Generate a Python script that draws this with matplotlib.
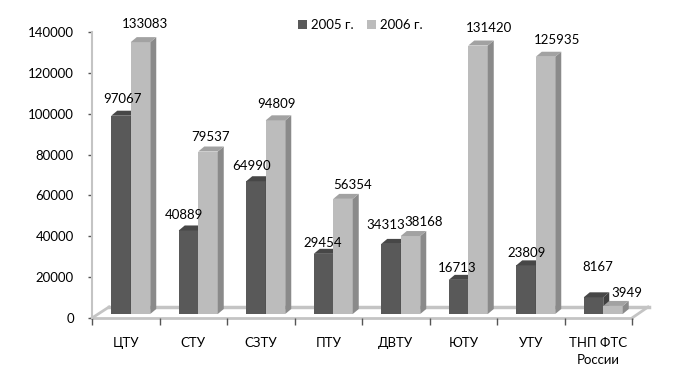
import matplotlib
matplotlib.use("Agg")
import matplotlib.pyplot as plt
from matplotlib.patches import Polygon, Patch
from matplotlib.transforms import ScaledTranslation
import numpy as np

plt.rcParams['font.family'] = ['Lato', 'DejaVu Sans']

categories = ['ЦТУ', 'СТУ', 'СЗТУ', 'ПТУ', 'ДВТУ', 'ЮТУ', 'УТУ', 'ТНП ФТС\nРоссии']
values_2005 = [97067, 40889, 64990, 29454, 34313, 16713, 23809, 8167]
values_2006 = [133083, 79537, 94809, 56354, 38168, 131420, 125935, 3949]
series_names = ['2005 г.', '2006 г.']
yticks = [0, 20000, 40000, 60000, 80000, 100000, 120000, 140000]

# style: label nudges (pixels) relative to bar front top centre
lab_dx_2005 = [1.5, -4, -4, -1, -5, -1, 1, 4]
lab_dy_2005 = [17, 15, 15, 11, 19, 12, 12, 30]
lab_dx_2006 = [4, 3, 1, 10, 13, 11, 12, 14]
lab_dy_2006 = [18, 15, 16, 14, 14, 18, 17, 13]

DPI = 100
fig = plt.figure(figsize=(6.75, 3.89), dpi=DPI)
fig.patch.set_facecolor('white')
ax = fig.add_axes([92/675, 1-318/389, 540/675, 286/389])
ax.set_xlim(0, 8)
ax.set_ylim(0, 140000)
ax.patch.set_alpha(0)

px_x = 8/540.0
px_y = 140000/286.0

floor_col = '#c4c4c4'
fdx, fdy = 17*px_x, 11*px_y
ax.plot([0, 8], [0, 0], color=floor_col, lw=2, clip_on=False, zorder=1)
ax.plot([fdx, 8+fdx], [fdy, fdy], color=floor_col, lw=2.5, clip_on=False, zorder=1)
ax.plot([0, fdx], [0, fdy], color=floor_col, lw=2, clip_on=False, zorder=1)
ax.plot([8, 8+fdx-1*px_x], [0, fdy], color=floor_col, lw=2, clip_on=False, zorder=1)

for s in ['top', 'right', 'bottom']:
    ax.spines[s].set_visible(False)
ax.spines['left'].set_color(floor_col)
ax.spines['left'].set_linewidth(1.5)

ax.set_yticks(yticks)
ax.set_yticklabels([str(t) for t in yticks], fontsize=9.5)
ax.tick_params(axis='y', length=3, width=1, color='#555555', pad=10)
ax.set_xticks(np.arange(9))
ax.set_xticklabels([''] * 9)
ax.tick_params(axis='x', which='major', length=5, width=1, color='#555555', direction='out')
ax.set_xticks(np.arange(8) + 0.5, minor=True)
ax.set_xticklabels(categories, minor=True, fontsize=9.5, linespacing=1.5)
ax.tick_params(axis='x', which='minor', length=0, pad=14)

shift = ScaledTranslation(5/DPI, 4/DPI, fig.dpi_scale_trans)
tr = ax.transData + shift

w = 19.5*px_x
ddx, ddy = 6*px_x, 5*px_y

colors = [dict(front='#595959', side='#404040', top='#474747'),
          dict(front='#bcbcbc', side='#8a8a8a', top='#a2a2a2')]

def draw_bar(x0, v, c, z):
    ax.add_patch(Polygon([(x0, 0), (x0+w, 0), (x0+w, v), (x0, v)], closed=True,
                         facecolor=c['front'], edgecolor='none', transform=tr, zorder=z, clip_on=False))
    ax.add_patch(Polygon([(x0+w, 0), (x0+w+ddx, ddy), (x0+w+ddx, v+ddy), (x0+w, v)], closed=True,
                         facecolor=c['side'], edgecolor='none', transform=tr, zorder=z, clip_on=False))
    ax.add_patch(Polygon([(x0, v), (x0+w, v), (x0+w+ddx, v+ddy), (x0+ddx, v+ddy)], closed=True,
                         facecolor=c['top'], edgecolor='none', transform=tr, zorder=z, clip_on=False))

for i in range(len(categories)):
    c0 = i + 0.5
    draw_bar(c0 - w, values_2005[i], colors[0], 3 + 2*i)
    draw_bar(c0, values_2006[i], colors[1], 4 + 2*i)
    ax.annotate(str(values_2005[i]), xy=(c0 - w/2, values_2005[i]), xycoords='data',
                xytext=(5 + lab_dx_2005[i], 4 + lab_dy_2005[i]), textcoords='offset pixels',
                ha='center', va='center', fontsize=9.5, zorder=30, annotation_clip=False)
    ax.annotate(str(values_2006[i]), xy=(c0 + w/2, values_2006[i]), xycoords='data',
                xytext=(5 + lab_dx_2006[i], 4 + lab_dy_2006[i]), textcoords='offset pixels',
                ha='center', va='center', fontsize=9.5, zorder=30, annotation_clip=False)

handles = [Patch(facecolor=colors[0]['front'], edgecolor='none'),
           Patch(facecolor=colors[1]['front'], edgecolor='none')]
fig.legend(handles, series_names, loc='center left', bbox_to_anchor=(298/675, 1-25/389),
           ncol=2, frameon=False, fontsize=9.5, handlelength=0.7, handleheight=0.7,
           handletextpad=0.3, columnspacing=1.0, borderpad=0, borderaxespad=0)

fig.savefig('out.png', dpi=DPI, facecolor='white')
